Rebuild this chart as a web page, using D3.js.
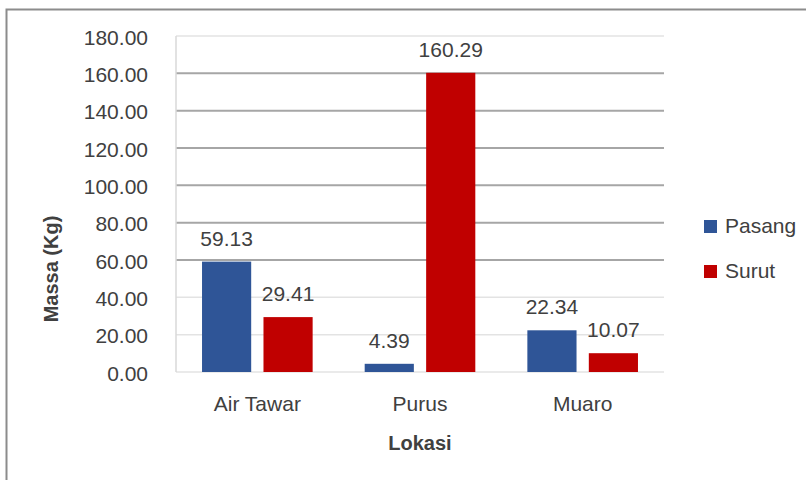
<!DOCTYPE html>
<html>
<head>
<meta charset="utf-8">
<script src="https://cdn.jsdelivr.net/npm/d3@7"></script>
<style>
  html, body { margin: 0; padding: 0; background: #fff; }
  svg { display: block; font-family: "Liberation Sans", Arial, sans-serif; }
</style>
</head>
<body>
<svg id="chart" width="806" height="480"></svg>
<script>
// ---- data ----
const categories = ["Air Tawar", "Purus", "Muaro"];
const series = ["Pasang", "Surut"];
const pasang = [59.13, 4.39, 22.34];
const surut = [29.41, 160.29, 10.07];
const yTicks = [0, 20, 40, 60, 80, 100, 120, 140, 160, 180];
const colors = ["#2F5597", "#C00000"];
const xTitle = "Lokasi";
const yTitle = "Massa (Kg)";

const values = [pasang, surut];
const rows = categories.map((c, i) => ({
  cat: c,
  vals: series.map((s, j) => ({ key: s, value: values[j][i], color: colors[j] }))
}));

const svg = d3.select("#chart");
const plot = { left: 176, right: 664, top: 36, bottom: 372 };
const textColor = "#404040";

// outer chart frame (only left and top edges are visible)
svg.append("path")
  .attr("d", "M6.5,480 L6.5,9.5 L806,9.5")
  .attr("fill", "none")
  .attr("stroke", "#8c8c8c")
  .attr("stroke-width", 2);

const x0 = d3.scaleBand().domain(categories).range([plot.left, plot.right]);
const x1 = d3.scaleBand().domain(series)
  .range([x0.bandwidth() * 0.16, x0.bandwidth() * 0.84])
  .paddingInner(0.2);
const y = d3.scaleLinear().domain([0, 180]).range([plot.bottom, plot.top]);

// gridlines
svg.append("g").selectAll("line")
  .data(yTicks)
  .join("line")
  .attr("x1", plot.left).attr("x2", plot.right)
  .attr("y1", d => y(d)).attr("y2", d => y(d))
  .attr("stroke", d => (d >= 60 && d <= 160) ? "#a6a6a6" : "#e3e3e3")
  .attr("stroke-width", d => (d >= 60 && d <= 160) ? 2 : 1.5);

// vertical axis line
svg.append("line")
  .attr("x1", plot.left).attr("x2", plot.left)
  .attr("y1", plot.top).attr("y2", plot.bottom)
  .attr("stroke", "#d9d9d9").attr("stroke-width", 1.5);

// y tick labels
svg.append("g").selectAll("text")
  .data(yTicks)
  .join("text")
  .attr("x", 148)
  .attr("y", d => y(d) + 8.5)
  .attr("text-anchor", "end")
  .attr("font-size", 21)
  .attr("fill", textColor)
  .text(d => d3.format(".2f")(d));

// bars
const groups = svg.append("g").selectAll("g")
  .data(rows)
  .join("g")
  .attr("transform", d => `translate(${x0(d.cat)},0)`);

groups.selectAll("rect")
  .data(d => d.vals)
  .join("rect")
  .attr("x", d => x1(d.key))
  .attr("width", x1.bandwidth())
  .attr("y", d => y(d.value))
  .attr("height", d => y(0) - y(d.value))
  .attr("fill", d => d.color);

groups.selectAll("text")
  .data(d => d.vals)
  .join("text")
  .attr("x", d => x1(d.key) + x1.bandwidth() / 2)
  .attr("y", d => y(d.value) - 16)
  .attr("text-anchor", "middle")
  .attr("font-size", 21)
  .attr("fill", textColor)
  .text(d => d3.format(".2f")(d.value));

// category labels
svg.append("g").selectAll("text")
  .data(categories)
  .join("text")
  .attr("x", d => x0(d) + x0.bandwidth() / 2)
  .attr("y", 411)
  .attr("text-anchor", "middle")
  .attr("font-size", 21)
  .attr("fill", textColor)
  .text(d => d);

// axis titles
svg.append("text")
  .attr("x", (plot.left + plot.right) / 2)
  .attr("y", 450)
  .attr("text-anchor", "middle")
  .attr("font-size", 20)
  .attr("font-weight", "bold")
  .attr("fill", textColor)
  .text(xTitle);

svg.append("text")
  .attr("transform", "translate(58,269) rotate(-90)")
  .attr("text-anchor", "middle")
  .attr("font-size", 20)
  .attr("font-weight", "bold")
  .attr("fill", textColor)
  .text(yTitle);

// legend
const legend = svg.append("g").selectAll("g")
  .data(series)
  .join("g")
  .attr("transform", (d, i) => `translate(704,${220 + i * 45})`);

legend.append("rect")
  .attr("width", 13).attr("height", 13)
  .attr("fill", (d, i) => colors[i]);

legend.append("text")
  .attr("x", 21)
  .attr("y", 13)
  .attr("font-size", 21)
  .attr("fill", textColor)
  .text(d => d);
</script>
</body>
</html>
